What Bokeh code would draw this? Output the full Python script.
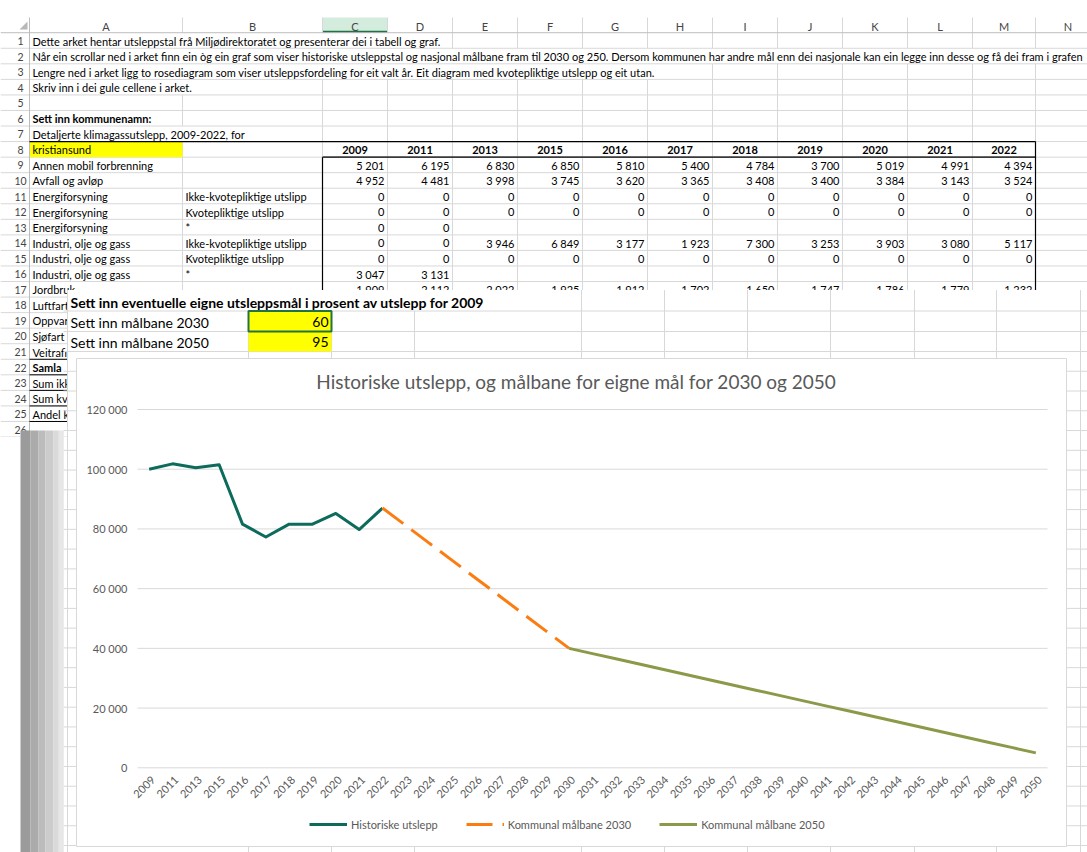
import math
from bokeh.plotting import figure
from bokeh.models import Range1d, Legend, LegendItem
from bokeh.core.properties import value
from bokeh.embed import file_html
from bokeh.resources import INLINE

# ---------------- chart data ----------------
categories = ["2009", "2011", "2013", "2015", "2016", "2017", "2018", "2019", "2020",
              "2021", "2022", "2023", "2024", "2025", "2026", "2027", "2028", "2029",
              "2030", "2031", "2032", "2033", "2034", "2035", "2036", "2037", "2038",
              "2039", "2040", "2041", "2042", "2043", "2044", "2045", "2046", "2047",
              "2048", "2049", "2050"]
hist_years = ["2009", "2011", "2013", "2015", "2016", "2017", "2018", "2019", "2020", "2021", "2022"]
hist_values = [100000, 101800, 100500, 101500, 81600, 77300, 81600, 81600, 85200, 79800, 87000]
goal2030_years = ["2022", "2023", "2024", "2025", "2026", "2027", "2028", "2029", "2030"]
goal2030_values = [87000, 81125, 75250, 69375, 63500, 57625, 51750, 45875, 40000]
goal2050_years = ["2030", "2031", "2032", "2033", "2034", "2035", "2036", "2037", "2038", "2039",
                  "2040", "2041", "2042", "2043", "2044", "2045", "2046", "2047", "2048", "2049", "2050"]
goal2050_values = [40000, 38250, 36500, 34750, 33000, 31250, 29500, 27750, 26000, 24250,
                   22500, 20750, 19000, 17250, 15500, 13750, 12000, 10250, 8500, 6750, 5000]
y_ticks = [0, 20000, 40000, 60000, 80000, 100000, 120000]
y_tick_labels = ["0", "20 000", "40 000", "60 000", "80 000", "100 000", "120 000"]
chart_title = "Historiske utslepp, og målbane for eigne mål for 2030 og 2050"
series_names = ["Historiske utslepp", "Kommunal målbane 2030", "Kommunal målbane 2050"]

# ---------------- spreadsheet data ----------------
col_letters = ["A", "B", "C", "D", "E", "F", "G", "H", "I", "J", "K", "L", "M", "N"]
intro_lines = [
    "Dette arket hentar utsleppstal frå Miljødirektoratet og presenterar dei i tabell og graf.",
    "Når ein scrollar ned i arket finn ein òg ein graf som viser historiske utsleppstal og nasjonal målbane fram til 2030 og 250. Dersom kommunen har andre mål enn dei nasjonale  kan ein legge inn desse og få dei fram i grafen",
    "Lengre ned i arket ligg to rosediagram som viser utsleppsfordeling for eit valt år. Eit diagram med kvotepliktige utslepp og eit utan.",
    "Skriv inn i dei gule cellene i arket.",
]
name_prompt = "Sett inn kommunenamn:"
table_caption = "Detaljerte klimagassutslepp, 2009-2022, for"
municipality = "kristiansund"
table_years = ["2009", "2011", "2013", "2015", "2016", "2017", "2018", "2019", "2020", "2021", "2022"]
sector_labels = ["Annen mobil forbrenning", "Avfall og avløp", "Energiforsyning", "Energiforsyning",
                 "Energiforsyning", "Industri, olje og gass", "Industri, olje og gass",
                 "Industri, olje og gass", "Jordbruk"]
sector_sub = ["", "", "Ikke-kvotepliktige utslipp", "Kvotepliktige utslipp", "*",
              "Ikke-kvotepliktige utslipp", "Kvotepliktige utslipp", "*", ""]
annen_mobil = ["5 201", "6 195", "6 830", "6 850", "5 810", "5 400", "4 784", "3 700", "5 019", "4 991", "4 394"]
avfall = ["4 952", "4 481", "3 998", "3 745", "3 620", "3 365", "3 408", "3 400", "3 384", "3 143", "3 524"]
energi_ikke = ["0", "0", "0", "0", "0", "0", "0", "0", "0", "0", "0"]
energi_kvote = ["0", "0", "0", "0", "0", "0", "0", "0", "0", "0", "0"]
energi_star = ["0", "0", "", "", "", "", "", "", "", "", ""]
industri_ikke = ["0", "0", "3 946", "6 849", "3 177", "1 923", "7 300", "3 253", "3 903", "3 080", "5 117"]
industri_kvote = ["0", "0", "0", "0", "0", "0", "0", "0", "0", "0", "0"]
industri_star = ["3 047", "3 131", "", "", "", "", "", "", "", "", ""]
jordbruk = ["1 909", "2 112", "2 022", "1 925", "1 912", "1 702", "1 650", "1 747", "1 786", "1 779", "1 232"]
table_values = [annen_mobil, avfall, energi_ikke, energi_kvote, energi_star,
                industri_ikke, industri_kvote, industri_star, jordbruk]
lower_labels = ["Luftfart", "Oppvarming", "Sjøfart", "Veitrafikk", "Samla",
                "Sum ikke-kvotepliktige", "Sum kvotepliktige", "Andel kvotepliktige"]
lower_bold = ["Samla"]
goal_title = "Sett inn eventuelle eigne utsleppsmål i prosent av utslepp for 2009"
goal_labels = ["Sett inn målbane 2030", "Sett inn målbane 2050"]
goal_pct = ["60", "95"]

# ---------------- layout / style constants ----------------
FONT = value("Lato")
GRID = "#d8d8d8"
HDR = "#bdbdbd"
W, H = 1087, 852
col_edges = [0, 29, 182, 322, 387, 452, 517, 582, 647, 712, 777, 842, 907, 972, 1035, 1100]
ROW_H = 15.55
HEAD_TOP = 17
SHEET_FS = "11px"


def rc(n):
    return 40 + ROW_H * (n - 1)


def rtop(n):
    return rc(n) - ROW_H / 2


N_ROWS = 26
overflow_until = {1: 452, 2: 1100, 3: 712, 4: 322, 7: 322}

p = figure(width=W, height=H, x_range=Range1d(0, W), y_range=Range1d(H, 0),
           x_axis_type=None, y_axis_type=None, min_border=0, toolbar_location=None,
           output_backend="svg", outline_line_color=None,
           background_fill_color="white", border_fill_color="white")
p.grid.visible = False

# ---- spreadsheet: header row ----
p.quad(left=[col_edges[3]], right=[col_edges[4]], top=[HEAD_TOP], bottom=[rtop(1)],
       fill_color="#d3ecdd", line_color=None)
p.segment(x0=[col_edges[3]], x1=[col_edges[4]], y0=[rtop(1) - 1], y1=[rtop(1) - 1],
          line_color="#217346", line_width=2)
hx = [(col_edges[i + 1] + col_edges[i + 2]) / 2 for i in range(len(col_letters))]
p.text(x=hx, y=[(HEAD_TOP + rtop(1)) / 2 + 1] * len(hx), text=col_letters, text_font=FONT,
       text_font_size="11px", text_color="#444444", text_align="center", text_baseline="middle")
p.segment(x0=col_edges[2:], x1=col_edges[2:], y0=[HEAD_TOP] * len(col_edges[2:]),
          y1=[rtop(1)] * len(col_edges[2:]), line_color=GRID, line_width=1)
p.patch(x=[19, 27, 27], y=[29, 29, 21], fill_color="#b8b8b8", line_color=None)

# ---- spreadsheet grid ----
hy = [rtop(n) for n in range(2, N_ROWS + 2)]
p.segment(x0=[0] * len(hy), x1=[1100] * len(hy), y0=hy, y1=hy, line_color=GRID, line_width=1)
vx0, vy0, vy1 = [], [], []
for n in range(1, N_ROWS + 1):
    for e in col_edges[2:]:
        if n in overflow_until and e < overflow_until[n]:
            continue
        vx0.append(e)
        vy0.append(rtop(n))
        vy1.append(rtop(n) + ROW_H)
p.segment(x0=vx0, x1=vx0, y0=vy0, y1=vy1, line_color=GRID, line_width=1)
p.segment(x0=[0], x1=[1100], y0=[rtop(1)], y1=[rtop(1)], line_color=HDR, line_width=1)
p.segment(x0=[29], x1=[29], y0=[HEAD_TOP], y1=[rtop(N_ROWS + 1)], line_color=HDR, line_width=1)

# row numbers
p.text(x=[20] * N_ROWS, y=[rc(n) + 0.5 for n in range(1, N_ROWS + 1)],
       text=[str(n) for n in range(1, N_ROWS + 1)], text_font=FONT, text_font_size="10.5px",
       text_color="#444444", text_align="center", text_baseline="middle")

# yellow name cell
p.quad(left=[29.5], right=[182], top=[rtop(8) + 0.5], bottom=[rtop(9)], fill_color="#ffff00", line_color=None)

TX = 32
cell_style = dict(text_font=FONT, text_font_size=SHEET_FS, text_color="#000000", text_baseline="middle")
p.text(x=[TX] * 4, y=[rc(n) + 0.5 for n in range(1, 5)], text=intro_lines, text_align="left", **cell_style)
p.text(x=[TX], y=[rc(6) + 0.5], text=[name_prompt], text_align="left", text_font_style="bold", **cell_style)
p.text(x=[TX, TX], y=[rc(7) + 0.5, rc(8) + 0.5], text=[table_caption, municipality], text_align="left", **cell_style)

ccx = [(col_edges[i] + col_edges[i + 1]) / 2 for i in range(3, 14)]
p.text(x=ccx, y=[rc(8) + 0.5] * 11, text=table_years, text_align="center", text_font_style="bold", **cell_style)

ry = [rc(9 + k) + 0.5 for k in range(len(sector_labels))]
p.text(x=[TX] * len(sector_labels), y=ry, text=sector_labels, text_align="left", **cell_style)
bx, by, bt = [], [], []
for k, lab in enumerate(sector_sub):
    if lab:
        bx.append(col_edges[2] + 3)
        by.append(rc(9 + k) + 0.5)
        bt.append(lab)
p.text(x=bx, y=by, text=bt, text_align="left", **cell_style)
vx, vy, vt = [], [], []
for k, vals in enumerate(table_values):
    for j, v in enumerate(vals):
        if v:
            vx.append(col_edges[4 + j] - 3)
            vy.append(rc(9 + k) + 0.5)
            vt.append(v)
p.text(x=vx, y=vy, text=vt, text_align="right", **cell_style)
reg = [(k, lab) for k, lab in enumerate(lower_labels) if lab not in lower_bold]
bld = [(k, lab) for k, lab in enumerate(lower_labels) if lab in lower_bold]
p.text(x=[TX] * len(reg), y=[rc(18 + k) + 0.5 for k, _ in reg], text=[lab for _, lab in reg],
       text_align="left", **cell_style)
p.text(x=[TX] * len(bld), y=[rc(18 + k) + 0.5 for k, _ in bld], text=[lab for _, lab in bld],
       text_align="left", text_font_style="bold", **cell_style)

# table borders
p.segment(x0=[29], x1=[1035], y0=[rtop(8)], y1=[rtop(8)], line_color="#000000", line_width=1.2)
p.segment(x0=[322], x1=[1035], y0=[rtop(9)], y1=[rtop(9)], line_color="#3a3a3a", line_width=1.6)
p.segment(x0=[322, 1035], x1=[322, 1035], y0=[rtop(9), rtop(8)], y1=[300, 300],
          line_color="#000000", line_width=1.2)
ub = [rtop(n) + ROW_H for n in range(21, 26)]
p.segment(x0=[29] * len(ub), x1=[70] * len(ub), y0=ub, y1=ub, line_color="#000000", line_width=1)

# ---- pasted goal-input sheet ----
OV_L, OV_T = 67, 289.5
p.quad(left=[OV_L], right=[1100], top=[OV_T], bottom=[860], fill_color="white", line_color=None)
p.quad(left=[0], right=[OV_L], top=[rtop(N_ROWS + 1)], bottom=[860], fill_color="white", line_color=None)
ov_cols = [248, 331, 414, 497, 581, 664, 747, 830, 914, 996, 1080]
ov_rows = [310.5, 331, 351] + [351 + 19.76 * k for k in range(1, 26)]
p.segment(x0=[63] * len(ov_rows), x1=[1100] * len(ov_rows), y0=ov_rows, y1=ov_rows, line_color=GRID, line_width=1)
full_cols = [c for c in ov_cols if c > 497]
part_cols = [c for c in ov_cols if c <= 414]
p.segment(x0=full_cols + part_cols, x1=full_cols + part_cols,
          y0=[OV_T] * len(full_cols) + [310.5] * len(part_cols),
          y1=[860] * (len(full_cols) + len(part_cols)), line_color=GRID, line_width=1)
p.segment(x0=[OV_L], x1=[OV_L], y0=[OV_T], y1=[860], line_color=GRID, line_width=1)
p.quad(left=[248, 248], right=[331, 331], top=[310.5, 331], bottom=[331, 351],
       fill_color="#ffff00", line_color=None)
p.quad(left=[248], right=[331], top=[310.5], bottom=[331], fill_color=None,
       line_color="#217346", line_width=2)
p.text(x=[70], y=[301.5], text=[goal_title], text_font=FONT, text_font_size="14px",
       text_font_style="bold", text_color="#000000", text_align="left", text_baseline="middle")
p.text(x=[70, 70], y=[321.5, 341.5], text=goal_labels, text_font=FONT, text_font_size="14px",
       text_color="#000000", text_align="left", text_baseline="middle")
p.text(x=[328, 328], y=[321.5, 341.5], text=goal_pct, text_font=FONT, text_font_size="14px",
       text_color="#000000", text_align="right", text_baseline="middle")

# grey shadow strips at the left
strip_edges = [20, 30, 37.7, 45, 52.7, 58.3, 63.3]
strip_colors = ["#9b9b9b", "#ababab", "#bcbcbc", "#cccccc", "#dadada", "#e7e7e7"]
p.quad(left=strip_edges[:-1], right=strip_edges[1:], top=[430] * 6, bottom=[860] * 6,
       fill_color=strip_colors, line_color=None)

# ---- chart ----
p.quad(left=[76], right=[1066], top=[358], bottom=[846], fill_color="white", line_color="#d9d9d9", line_width=1)
p.text(x=[576], y=[381], text=[chart_title], text_font=FONT, text_font_size="19px",
       text_color="#595959", text_align="center", text_baseline="middle")

PL, PR = 137, 1047
n_cat = len(categories)
step = (PR - PL) / n_cat
p.extra_x_ranges = {"idx": Range1d((0 - PL) / step - 0.5, (W - PL) / step - 0.5)}
Y0, Y120 = 767.3, 409.0
ppu = (Y0 - Y120) / 120000
p.extra_y_ranges = {"val": Range1d((Y0 - H) / ppu, (Y0 - 0) / ppu)}

p.segment(x0=[-0.5] * len(y_ticks), x1=[n_cat - 0.5] * len(y_ticks), y0=y_ticks, y1=y_ticks,
          x_range_name="idx", y_range_name="val", line_color="#d9d9d9", line_width=1)
p.text(x=[-0.5] * len(y_ticks), y=y_ticks, text=y_tick_labels, x_range_name="idx", y_range_name="val",
       x_offset=-10, text_font=FONT, text_font_size="11px", text_color="#595959",
       text_align="right", text_baseline="middle")
p.text(x=list(range(n_cat)), y=[0] * n_cat, text=categories, x_range_name="idx", y_range_name="val",
       angle=math.pi / 4, x_offset=4, y_offset=10, text_font=FONT, text_font_size="11px",
       text_color="#595959", text_align="right", text_baseline="middle")

r_hist = p.line(x=[categories.index(y) for y in hist_years], y=hist_values, x_range_name="idx",
                y_range_name="val", line_color="#0d6b5c", line_width=3, line_join="round")
r_2030 = p.line(x=[categories.index(y) for y in goal2030_years], y=goal2030_values, x_range_name="idx",
                y_range_name="val", line_color="#fb7d12", line_width=3, line_dash="26 10")
r_2050 = p.line(x=[categories.index(y) for y in goal2050_years], y=goal2050_values, x_range_name="idx",
                y_range_name="val", line_color="#8a9a48", line_width=3, line_join="round")

legend = Legend(items=[LegendItem(label=series_names[0], renderers=[r_hist]),
                       LegendItem(label=series_names[1], renderers=[r_2030]),
                       LegendItem(label=series_names[2], renderers=[r_2050])],
                orientation="horizontal", location=(309, 18), glyph_width=38, glyph_height=20,
                label_standoff=4, spacing=28, padding=0, margin=0, border_line_color=None,
                background_fill_alpha=0, label_text_font="Lato", label_text_font_size="11px",
                label_text_color="#595959")
p.add_layout(legend)

open("out.html", "w").write(file_html(p, INLINE))
